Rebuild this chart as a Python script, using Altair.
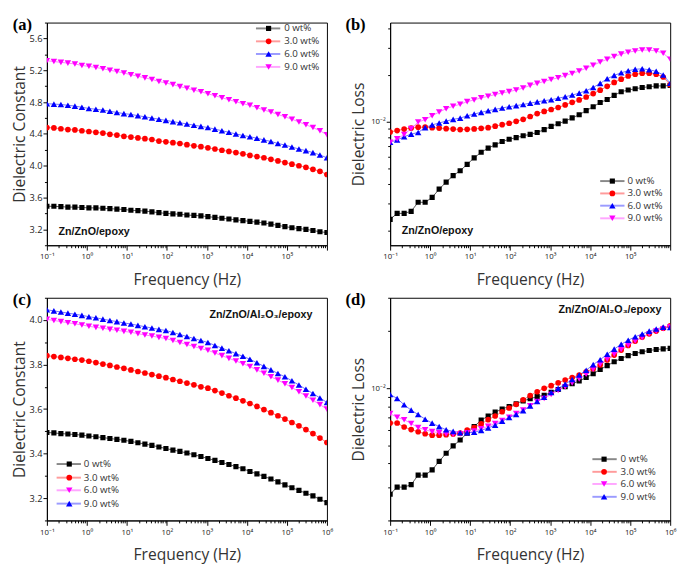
import altair as alt
import pandas as pd

# ---------------- data ----------------
FREQ = [0.1, 0.1496, 0.2239, 0.335, 0.5012, 0.7499, 1.122, 1.679, 2.512, 3.758,
        5.623, 8.414, 12.59, 18.84, 28.18, 42.17, 63.1, 94.41, 141.3, 211.3,
        316.2, 473.2, 707.9, 1059.0, 1585.0, 2371.0, 3548.0, 5309.0, 7943.0, 11885.0,
        17783.0, 26607.0, 39811.0, 59566.0, 89125.0, 133352.0, 199526.0, 298538.0, 446684.0, 668344.0,
        1000000.0]
LABELS = ["0 wt%", "3.0 wt%", "6.0 wt%", "9.0 wt%"]

# (a) Zn/ZnO/epoxy - dielectric constant
A_0 = [3.49, 3.49, 3.485, 3.48, 3.48, 3.475, 3.47, 3.47, 3.465, 3.46, 3.455, 3.45, 3.44, 3.435,
       3.43, 3.42, 3.41, 3.40, 3.395, 3.39, 3.38, 3.375, 3.37, 3.36, 3.35, 3.34, 3.33, 3.32,
       3.31, 3.30, 3.29, 3.28, 3.265, 3.25, 3.235, 3.22, 3.21, 3.20, 3.185, 3.17, 3.16]
A_3 = [4.48, 4.475, 4.465, 4.455, 4.45, 4.44, 4.43, 4.42, 4.41, 4.395, 4.385, 4.37, 4.36, 4.35,
       4.34, 4.33, 4.31, 4.30, 4.29, 4.28, 4.265, 4.25, 4.24, 4.225, 4.21, 4.195, 4.18, 4.165,
       4.15, 4.13, 4.115, 4.10, 4.08, 4.06, 4.04, 4.02, 4.00, 3.98, 3.955, 3.93, 3.89]
A_6 = [4.78, 4.775, 4.77, 4.76, 4.75, 4.735, 4.72, 4.71, 4.70, 4.685, 4.67, 4.655, 4.645, 4.63,
       4.615, 4.60, 4.585, 4.57, 4.555, 4.54, 4.525, 4.51, 4.495, 4.48, 4.46, 4.44, 4.42, 4.40,
       4.38, 4.365, 4.345, 4.325, 4.305, 4.28, 4.26, 4.235, 4.21, 4.19, 4.165, 4.135, 4.10]
A_9 = [5.32, 5.31, 5.30, 5.29, 5.28, 5.26, 5.25, 5.235, 5.22, 5.20, 5.185, 5.165, 5.145, 5.125,
       5.105, 5.085, 5.06, 5.04, 5.02, 4.995, 4.975, 4.95, 4.93, 4.905, 4.88, 4.855, 4.83, 4.805,
       4.78, 4.76, 4.73, 4.70, 4.675, 4.645, 4.615, 4.585, 4.55, 4.515, 4.48, 4.44, 4.39]

# (b) Zn/ZnO/epoxy - dielectric loss
B_0 = [0.00236, 0.00258, 0.00258, 0.00266, 0.00304, 0.00304, 0.00327, 0.00369, 0.0041, 0.00451,
       0.00485, 0.00533, 0.00587, 0.00637, 0.00678, 0.00711, 0.00747, 0.00772, 0.00791, 0.00814,
       0.0083, 0.00854, 0.00891, 0.00935, 0.00972, 0.0101, 0.0106, 0.0111, 0.0118, 0.0125,
       0.0133, 0.0139, 0.0148, 0.0156, 0.016, 0.0163, 0.0166, 0.0168, 0.017, 0.017, 0.0171]
B_3 = [0.0086, 0.00878, 0.00898, 0.00911, 0.00924, 0.00924, 0.00917, 0.00911, 0.00904, 0.00898,
       0.00891, 0.00895, 0.009, 0.00908, 0.00917, 0.00937, 0.00958, 0.00979, 0.01007, 0.01037,
       0.01082, 0.0113, 0.01166, 0.012, 0.01236, 0.01283, 0.01334, 0.01382, 0.01443, 0.01518,
       0.01596, 0.01691, 0.0179, 0.0188, 0.0197, 0.0202, 0.0205, 0.0205, 0.0202, 0.0194, 0.0173]
B_6 = [0.00739, 0.00764, 0.00802, 0.00833, 0.00854, 0.00917, 0.00955, 0.00983, 0.0101, 0.01037,
       0.01056, 0.01093, 0.01122, 0.0115, 0.01177, 0.01202, 0.01228, 0.0125, 0.01271, 0.01292,
       0.01318, 0.01343, 0.01367, 0.01387, 0.01417, 0.01448, 0.01485, 0.01528, 0.01585, 0.01662,
       0.01765, 0.01891, 0.01987, 0.02065, 0.02128, 0.02175, 0.0219, 0.0216, 0.0211, 0.02, 0.0177]
B_9 = [0.00739, 0.00777, 0.00829, 0.00904, 0.00996, 0.01032, 0.01095, 0.01155, 0.01214, 0.01259,
       0.01296, 0.01347, 0.01382, 0.01426, 0.01459, 0.01496, 0.01533, 0.01563, 0.016, 0.01648,
       0.01714, 0.01765, 0.01817, 0.0187, 0.01919, 0.01981, 0.02045, 0.0212, 0.0221, 0.0231,
       0.0242, 0.0252, 0.0263, 0.0272, 0.028, 0.0285, 0.0289, 0.0289, 0.0285, 0.0276, 0.0252]

# (c) Zn/ZnO/Al2O3/epoxy - dielectric constant
C_0 = [3.495, 3.493, 3.49, 3.488, 3.486, 3.483, 3.479, 3.476, 3.472, 3.468, 3.464, 3.46, 3.455,
       3.449, 3.443, 3.437, 3.43, 3.423, 3.416, 3.41, 3.403, 3.395, 3.387, 3.378, 3.37, 3.36,
       3.351, 3.342, 3.332, 3.32, 3.309, 3.298, 3.286, 3.273, 3.26, 3.247, 3.235, 3.222, 3.21,
       3.195, 3.18]
C_3 = [3.84, 3.836, 3.832, 3.828, 3.824, 3.82, 3.815, 3.809, 3.802, 3.796, 3.789, 3.783, 3.776,
       3.769, 3.762, 3.755, 3.748, 3.741, 3.733, 3.725, 3.717, 3.709, 3.70, 3.694, 3.683, 3.672,
       3.66, 3.649, 3.637, 3.625, 3.612, 3.598, 3.584, 3.57, 3.555, 3.54, 3.525, 3.508, 3.49,
       3.47, 3.45]
C_6 = [4.003, 3.998, 3.993, 3.988, 3.983, 3.978, 3.972, 3.967, 3.963, 3.958, 3.954, 3.949, 3.945,
       3.939, 3.933, 3.928, 3.922, 3.917, 3.908, 3.899, 3.89, 3.881, 3.872, 3.864, 3.852, 3.84,
       3.828, 3.816, 3.804, 3.791, 3.776, 3.761, 3.745, 3.73, 3.714, 3.697, 3.678, 3.659, 3.64,
       3.62, 3.60]
C_9 = [4.046, 4.041, 4.036, 4.031, 4.026, 4.021, 4.015, 4.01, 4.004, 3.998, 3.993, 3.987, 3.982,
       3.976, 3.97, 3.964, 3.958, 3.953, 3.944, 3.935, 3.926, 3.917, 3.908, 3.899, 3.886, 3.874,
       3.862, 3.849, 3.837, 3.824, 3.808, 3.792, 3.776, 3.76, 3.745, 3.727, 3.708, 3.689, 3.67,
       3.65, 3.63]

# (d) Zn/ZnO/Al2O3/epoxy - dielectric loss
D_0 = [0.00275, 0.003, 0.003, 0.00309, 0.00347, 0.00347, 0.0037, 0.0041, 0.00453, 0.00495,
       0.00532, 0.00578, 0.00627, 0.00677, 0.00712, 0.00746, 0.00776, 0.008, 0.00827, 0.00855,
       0.0088, 0.00901, 0.00917, 0.00949, 0.00983, 0.01018, 0.01054, 0.01091, 0.01137, 0.01191,
       0.01254, 0.01314, 0.01377, 0.01434, 0.01485, 0.01523, 0.01556, 0.01579, 0.016, 0.0161, 0.0162]
D_3 = [0.00654, 0.00654, 0.00623, 0.00604, 0.00588, 0.00574, 0.00564, 0.00564, 0.00567, 0.00572,
       0.00578, 0.006, 0.00619, 0.00647, 0.00681, 0.00712, 0.0075, 0.00785, 0.00821, 0.00868,
       0.00913, 0.00957, 0.00997, 0.0103, 0.01066, 0.01104, 0.01137, 0.01173, 0.01219, 0.01266,
       0.01325, 0.01409, 0.01494, 0.01587, 0.01678, 0.01772, 0.01859, 0.01934, 0.02, 0.0207, 0.0213]
D_6 = [0.00733, 0.00701, 0.00681, 0.0065, 0.00619, 0.00602, 0.00589, 0.00581, 0.00572, 0.0057,
       0.00572, 0.00581, 0.00593, 0.0061, 0.00628, 0.0065, 0.00675, 0.00701, 0.00735, 0.00765,
       0.00806, 0.00848, 0.00882, 0.00925, 0.00971, 0.01014, 0.01064, 0.01119, 0.01184, 0.01257,
       0.01338, 0.01422, 0.01511, 0.01598, 0.01687, 0.01772, 0.01848, 0.01929, 0.02, 0.0206, 0.021]
D_9 = [0.00925, 0.00882, 0.00816, 0.00765, 0.00725, 0.00685, 0.00653, 0.00626, 0.00602, 0.00591,
       0.00581, 0.00581, 0.00584, 0.00598, 0.00616, 0.00637, 0.00668, 0.00699, 0.00726, 0.00759,
       0.00806, 0.0085, 0.00895, 0.00947, 0.00997, 0.0105, 0.0111, 0.01173, 0.01243, 0.0133,
       0.01413, 0.01508, 0.01607, 0.01703, 0.01789, 0.01867, 0.01929, 0.02, 0.0205, 0.021, 0.0209]

# ---------------- styling ----------------
BLACK, RED, BLUE, MAGENTA = "#000000", "#ff0000", "#0000ff", "#ff00ff"
LINE_COL = {BLACK: "#555555", RED: "#ff7070", BLUE: "#7070ff", MAGENTA: "#ff80ff"}
STYLE_AB = [(BLACK, "square", 28), (RED, "circle", 34), (BLUE, "triangle-up", 44), (MAGENTA, "triangle-down", 44)]
STYLE_CD = [(BLACK, "square", 28), (RED, "circle", 34), (MAGENTA, "triangle-down", 44), (BLUE, "triangle-up", 44)]

W, H = 288, 229
FONT = "Open Sans"
SUP = {-2: "\u207b\u00b2", -1: "\u207b\u00b9", 0: "\u2070", 1: "\u00b9", 2: "\u00b2",
       3: "\u00b3", 4: "\u2074", 5: "\u2075", 6: "\u2076"}
XTICKS = [m * 10.0 ** e for e in range(-1, 6) for m in range(1, 10)] + [1e6]
MAJOR_LOG = "abs(log(datum.value) / LN10 - round(log(datum.value) / LN10)) < 0.001"


def decade_expr(exps):
    expr = "''"
    for e in reversed(exps):
        expr = f"abs(log(datum.value) / LN10 - ({e})) < 0.001 ? '10{SUP[e]}' : ({expr})"
    return expr


def x_enc(show6):
    exps = list(range(-1, 6)) + ([6] if show6 else [])
    return alt.X("freq:Q", scale=alt.Scale(type="log", domain=[0.1, 1e6], nice=False),
                 axis=alt.Axis(values=XTICKS, labelExpr=decade_expr(exps), title="Frequency (Hz)",
                               tickSize={"condition": {"test": MAJOR_LOG, "value": 5}, "value": 2.5},
                               labelFontSize=8, labelOverlap=False, labelFlush=False, grid=False,
                               labelPadding=3, titlePadding=11))


def y_lin(domain, ticks, base, step):
    test = f"abs((datum.value - {base}) / {step} - round((datum.value - {base}) / {step})) < 0.01"
    return alt.Y("value:Q", scale=alt.Scale(domain=domain, nice=False, zero=False),
                 axis=alt.Axis(values=ticks, labelExpr=f"{test} ? format(datum.value, '.1f') : ''",
                               title="Dielectric Constant",
                               tickSize={"condition": {"test": test, "value": 4}, "value": 2.5},
                               labelFontSize=9.5, labelOverlap=False, labelFlush=False, grid=False,
                               labelPadding=1, titlePadding=2))


def y_log(domain, ticks):
    return alt.Y("value:Q", scale=alt.Scale(type="log", domain=domain, nice=False),
                 axis=alt.Axis(values=ticks,
                               labelExpr=f"abs(datum.value - 0.01) < 0.000001 ? '10{SUP[-2]}' : ''",
                               title="Dielectric Loss",
                               tickSize={"condition": {"test": MAJOR_LOG, "value": 4}, "value": 2.5},
                               labelFontSize=8, labelOverlap=False, labelFlush=False, grid=False,
                               labelPadding=1, titlePadding=4))


def panel(series, style, x, y, legend, note, tag):
    lines, pts, extra = [], [], []
    for name, vals, (color, shape, size) in zip(LABELS, series, style):
        sub = pd.DataFrame({"freq": FREQ, "value": vals, "series": name})
        base = alt.Chart(sub).encode(x=x, y=y)
        lines.append(base.mark_line(color=LINE_COL[color], strokeWidth=1, clip=True))
        pts.append(base.mark_point(shape=shape, filled=True, color=color, size=size,
                                   opacity=1, clip=True))
    lx0, lx1, lxm, ltx, lys = legend
    for name, (color, shape, size), yy in zip(LABELS, style, lys):
        d = pd.DataFrame({"label": [name]})
        extra.append(alt.Chart(d).mark_rule(color=LINE_COL[color], strokeWidth=2, opacity=0.7)
                     .encode(x=alt.value(lx0), x2=alt.value(lx1), y=alt.value(yy)))
        extra.append(alt.Chart(d).mark_point(shape=shape, filled=True, color=color, size=size, opacity=1)
                     .encode(x=alt.value(lxm), y=alt.value(yy)))
        extra.append(alt.Chart(d).mark_text(align="left", baseline="middle", font=FONT,
                                            fontSize=10, color="#333333")
                     .encode(x=alt.value(ltx), y=alt.value(yy), text="label:N"))
    ntext, nx, ny, nalign = note
    extra.append(alt.Chart(pd.DataFrame({"t": [ntext]}))
                 .mark_text(align=nalign, baseline="middle", font="Liberation Sans",
                            fontWeight="bold", fontSize=11, color="#111111")
                 .encode(x=alt.value(nx), y=alt.value(ny), text="t:N"))
    ttext, tx = tag
    extra.append(alt.Chart(pd.DataFrame({"t": [ttext]}))
                 .mark_text(align="left", baseline="middle", font="Liberation Serif",
                            fontWeight="bold", fontSize=17, color="#000000")
                 .encode(x=alt.value(tx), y=alt.value(2.5), text="t:N"))
    return alt.layer(*lines, *pts, *extra).properties(width=W, height=H)


Y_TICKS_A = [round(3.0 + 0.2 * k, 1) for k in range(15)]
Y_TICKS_C = [round(3.1 + 0.1 * k, 1) for k in range(11)]
Y_TICKS_B = [0.002, 0.003, 0.004, 0.005, 0.006, 0.007, 0.008, 0.009, 0.01, 0.02, 0.03, 0.04]
Y_TICKS_D = [0.002, 0.003, 0.004, 0.005, 0.006, 0.007, 0.008, 0.009, 0.01, 0.02, 0.03]

pa = panel([A_0, A_3, A_6, A_9], STYLE_AB, x_enc(False),
           y_lin([3.0, 5.8], Y_TICKS_A, 3.2, 0.4),
           (215, 240, 228, 244, [6, 19.3, 32.3, 45.6]),
           ("Zn/ZnO/epoxy", 12, 215, "left"), ("(a)", -35))
pb = panel([B_0, B_3, B_6, B_9], STYLE_AB, x_enc(False),
           y_log([0.00161, 0.0434], Y_TICKS_B),
           (216, 241, 228.5, 244, [163, 175.7, 188.3, 201.3]),
           ("Zn/ZnO/epoxy", 12, 214, "left"), ("(b)", -46))
pc = panel([C_0, C_3, C_6, C_9], STYLE_CD, x_enc(True),
           y_lin([3.1, 4.1], Y_TICKS_C, 3.2, 0.2),
           (10, 35, 23, 38, [171, 185, 198, 211.7]),
           ("Zn/ZnO/Al\u2082O\u2083/epoxy", 273, 18, "right"), ("(c)", -35))
pd_ = panel([D_0, D_3, D_6, D_9], STYLE_CD, x_enc(True),
            y_log([0.002, 0.03], Y_TICKS_D),
            (208, 233, 220, 237, [166, 179, 191.5, 204.7]),
            ("Zn/ZnO/Al\u2082O\u2083/epoxy", 279, 13, "right"), ("(d)", -46))

chart = (
    alt.concat(pa, pb, pc, pd_, columns=2, spacing={"row": 3, "column": 11})
    .properties(padding={"left": 3, "top": 0, "right": 0, "bottom": 0})
    .configure_view(stroke="#000000", strokeWidth=1)
    .configure_axis(labelFont=FONT, titleFont=FONT, labelColor="#222222", titleColor="#333333",
                    titleFontWeight="normal", titleFontSize=16, domainColor="#000000",
                    tickColor="#000000", domainWidth=1, tickWidth=1)
)

chart.save("out.html", embed_options={"renderer": "svg", "actions": False})
